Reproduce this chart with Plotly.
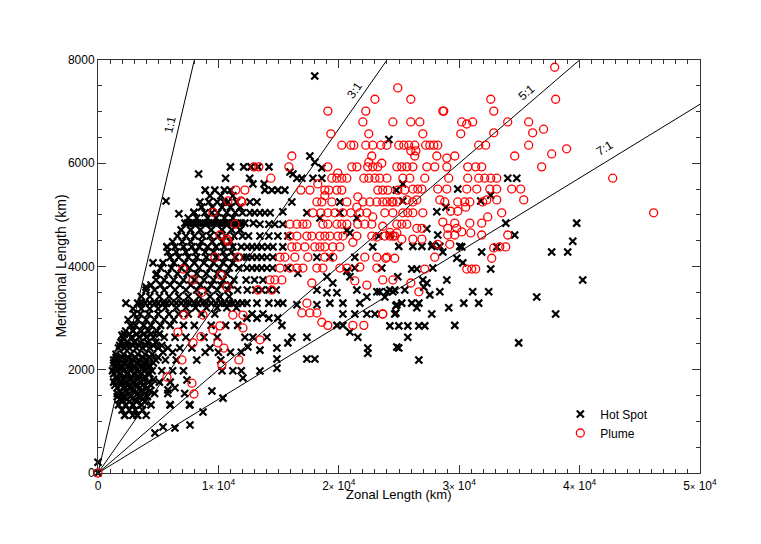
import math
import plotly.graph_objects as go

# ---- data (km) ----
# hot spots, dense rows: (meridional, [zonal, ...])
hot_spot_rows = [
    (5480, [8900, 9700, 10500, 11000]),
    (5370, [9300, 10200, 11200]),
    (5250, [8470, 9200, 9900, 10460, 10790, 11500]),
    (5150, [8600, 9500, 10300, 11000, 11800]),
    (5040, [7970, 8880, 9460, 9960, 10700, 11400, 12000, 13000, 14300]),
    (4940, [7500, 8200, 9100, 9800, 10500, 11200]),
    (4840, [7220, 7450, 7700, 8000, 8300, 8600, 8900, 9200, 9500, 9800, 10100, 10400, 10700,
            11000, 11300, 11600, 11900, 12200, 12900]),
    (4710, [6900, 7700, 8500, 9400, 10300, 11100, 11800]),
    (4590, [6600, 7300, 8000, 8700, 9300, 10000, 10600, 11300, 12000, 12500]),
    (4480, [6200, 7000, 7700, 8600, 9500, 10300, 11000]),
    (4380, [5730, 6400, 7100, 7800, 8400, 9100, 9800, 10500, 11200, 11900, 12400, 12800,
            13200, 13600, 14100]),
    (4280, [5800, 6500, 7300, 8100, 8900, 9600, 10400, 11100]),
    (4180, [6000, 6700, 7500, 8200, 9000, 9800, 10600, 11400, 12100, 12800, 13600]),
    (4070, [5400, 6300, 7200, 8000, 8800, 9600, 10400, 11200]),
    (3970, [5200, 6100, 6900, 7600, 8400, 9300, 10100, 10900, 11700, 12800, 13600, 14500]),
    (3860, [4900, 5800, 6600, 7400, 8200, 9000, 9900, 10700]),
    (3740, [4820, 5500, 6300, 7100, 8000, 8800, 9600, 10400, 11300, 12300, 13000, 13700]),
    (3640, [4400, 5200, 6000, 6800, 7700, 8500, 9400, 10200, 11000]),
    (3545, [3990, 4700, 5500, 6400, 7300, 8200, 9100, 9900, 10800, 11600, 12400, 13100,
            13600, 14200, 14800]),
    (3420, [3600, 4300, 5100, 5900, 6700, 7500, 8400, 9300, 10100, 10900]),
    (3290, [3300, 3600, 3900, 4300, 4700, 5000, 5400, 5700, 6100, 6500, 6900, 7300, 7600,
            8000, 8300, 8700, 9000, 9400, 9800, 10200, 10500, 10900, 11200, 11600, 12000]),
    (3200, [5600, 6500, 7300, 8100, 9000, 9900, 10700, 11500]),
    (3180, [2900, 3600, 4300, 5000]),
    (3080, [3000, 3500, 4200, 5000, 5900, 6700, 7500, 8600, 9700, 12800, 13700]),
    (2970, [2500, 3300, 4000, 4700, 5500, 6300]),
    (2860, [2700, 3100, 3800, 4400, 5200, 6000, 7100, 8000, 9400, 10600, 11600]),
    (2750, [2300, 2900, 3600, 4200, 4900]),
    (2690, [2200, 2600, 3200, 3800, 4400, 5100]),
    (2630, [2100, 2800, 3400, 4000, 4600, 5500, 6400, 7300, 8800, 9900]),
    (2530, [1900, 2400, 3000, 3500, 4100, 4800]),
    (2470, [1800, 2400, 2900, 3400, 4000, 4600, 5300]),
    (2420, [1700, 2200, 2600, 3200, 3700, 4300, 5000, 5800, 6800, 7800, 9300]),
    (2340, [5400, 6200, 8900, 10000, 11000, 11900]),
    (2300, [1500, 2100, 2700, 3300, 3900, 4500]),
    (2240, [1500, 2000, 2500, 3100, 3700, 4300, 5000]),
    (2190, [1300, 1800, 2300, 2900, 3400, 4100, 4800, 5600, 6500, 8200, 10200]),
    (2130, [1300, 1700, 2200, 2800, 3300, 3900, 4600]),
    (2080, [1400, 1900, 2500, 3000, 3600, 4300]),
    (2030, [1500, 2000, 2600, 3100, 3700, 4100]),
    (1980, [1200, 1600, 2100, 2700, 3200, 3800, 4500, 5300, 6200, 7100, 10300, 11200, 11900]),
    (1920, [1300, 1800, 2400, 3000, 3600, 4300]),
    (1870, [1500, 2200, 2800, 3400, 3900]),
    (1810, [1600, 2100, 2700, 3300, 3800, 4600]),
    (1760, [1300, 1900, 2400, 3000, 3600, 4200, 5100, 6000]),
    (1700, [1400, 1900, 2500, 3100, 3700, 4400]),
    (1650, [1600, 2200, 2800, 3500, 4100]),
    (1590, [1800, 2300, 2900, 3600, 4300]),
    (1540, [1600, 2000, 2600, 3300, 3900, 4700, 5800, 7200]),
    (1480, [1600, 2100, 2700, 3400, 4100]),
    (1430, [1800, 2400, 3100, 3700]),
    (1380, [2000, 2600, 3200, 3900]),
    (1320, [1700, 2300, 2900, 3600, 4400, 6000, 7600]),
    (1220, [2000, 2600, 3100, 3700]),
    (1120, [2200, 2900, 3300, 4000]),
]

hot_spot_sparse = [
    (0, 0), (0, 210), (4730, 775), (5400, 890), (6390, 870), (7640, 930), (8720, 1180),
    (10380, 1450), (9460, 1590), (5980, 1320), (7640, 1320), (5810, 1610), (6390, 1650),
    (7390, 1800), (3240, 1120), (2240, 1120), (1990, 1414), (1580, 1860), (1580, 2190),
    (1990, 2670), (2320, 3290), (3990, 3600), (4570, 4070), (4820, 3840), (5730, 4380),
    (5650, 5270), (6720, 5020), (7970, 5050), (8360, 5790),
]

hot_spot_mid = [
    (17600, 6140), (18010, 6020), (15940, 5830), (16190, 5790), (17850, 5710), (18590, 5710),
    (16520, 5710), (16930, 5710), (18590, 5910), (11000, 5930), (12100, 5930), (12700, 5930),
    (13300, 5930), (14200, 5930), (10600, 5710), (12600, 5710), (13800, 5600), (12870, 5600),
    (13860, 5480), (14440, 5480), (14940, 5480), (15520, 5480), (12620, 5250), (13200, 5250),
    (16100, 5250), (20090, 5250), (12620, 5040), (13450, 5040), (13860, 5040), (15350, 5060),
    (17350, 5040), (18430, 4940), (20090, 5040), (21500, 4940), (13450, 4820), (14190, 4820),
    (14690, 4820), (15350, 4820), (20670, 4700), (20920, 4650), (13450, 4590), (14190, 4590),
    (14940, 4590), (15770, 4590), (14530, 4380), (15350, 4380), (12370, 4180), (13200, 4180),
    (14030, 4180), (14530, 4180), (18180, 4180), (19260, 4180), (21330, 4180), (20670, 3910),
    (21330, 3970), (20920, 3800), (12370, 3970), (13200, 3970), (14030, 3970), (15770, 3970),
    (16600, 3870), (19010, 3800), (19500, 3680), (19840, 3490), (18180, 3545), (19010, 3490),
    (21500, 3545), (22330, 3410), (12370, 3290), (13200, 3290), (14190, 3290), (14940, 3290),
    (15350, 3290), (16520, 3260), (18180, 3260), (19260, 3290), (20340, 3290), (21750, 3290),
    (20340, 3080), (21330, 3080), (22330, 3080), (23000, 3080), (12370, 3000), (13200, 3000),
    (14190, 3000), (14940, 3000), (15270, 2860), (19840, 2860), (20340, 2860), (20920, 2730),
    (21580, 2630), (12200, 2630), (12870, 2630), (14030, 2630), (16100, 2630), (17350, 2630),
    (15770, 2520), (12450, 2440), (13450, 2380), (14860, 2420), (22410, 2420), (22410, 2320),
    (14860, 2210), (17350, 2210), (18010, 2210), (14860, 2030), (13450, 1975), (12040, 1840),
    (18000, 7690), (24160, 6460), (25320, 5600), (24780, 5480), (25320, 5270),
]

hot_spot_east = [
    (34030, 5710), (34780, 5710), (29880, 5500), (32620, 5380), (31790, 5270), (28890, 5150),
    (28140, 5060), (33870, 4840), (39760, 4840), (34610, 4610), (39430, 4490), (28220, 4610),
    (27810, 4420), (28640, 4280), (30210, 4380), (31870, 4280), (33120, 4380), (37680, 4280),
    (39010, 4280), (29800, 4160), (30300, 4070), (27810, 3970), (32620, 3950), (28970, 3740),
    (40260, 3740), (31120, 3510), (32450, 3510), (28390, 3510), (36440, 3410), (30380, 3290),
    (31620, 3290), (29130, 3200), (27720, 3080), (38010, 3080), (29630, 2860), (34940, 2520),
    (27310, 4730), (24240, 4610), (24980, 4390), (26150, 4390), (26900, 4390), (27720, 4390),
    (28390, 4390), (30050, 4390), (23320, 4590), (22820, 4380), (23570, 3970), (26060, 3950),
    (26480, 3950), (24900, 3800), (26980, 3740), (27310, 3680), (23410, 3510), (24240, 3545),
    (24650, 3545), (25480, 3545), (27060, 3600), (27560, 3450), (23820, 3410), (23160, 3510),
    (24000, 3510), (24490, 3510), (24740, 3240), (25230, 3290), (26060, 3290), (26650, 3290),
    (26480, 3200), (24740, 3100), (24650, 3080), (24820, 3260), (24240, 2850), (24980, 2850),
    (25730, 2850), (26650, 2850), (27140, 2850), (25730, 2630), (24980, 2420), (24820, 2440),
    (26650, 2190),
]

plume_west = [
    (0, 0), (11450, 5480), (11870, 5270), (10790, 5270), (9550, 5050), (11370, 4820),
    (10130, 4610), (10790, 4490), (10710, 4530), (9710, 4180), (11620, 4180), (7060, 3950),
    (7890, 3740), (10210, 3830), (8630, 3500), (10710, 3600), (7140, 3060), (8720, 3060),
    (11200, 3060), (12040, 3060), (9550, 2770), (10130, 2850), (6640, 2730), (8550, 2640),
    (7890, 2520), (9960, 2520), (10460, 2420), (6970, 2190), (11700, 2190), (10290, 2090),
    (5730, 1860), (7800, 1740), (7970, 1530), (12950, 5930), (13360, 5930), (12200, 5480),
    (11950, 5250), (14360, 5710), (13280, 3545), (14440, 3545), (14280, 3740), (14690, 3740),
    (15270, 3740), (13450, 2580), (12040, 2810),
]

plume_central = [
    (16100, 6140), (15850, 5930), (19090, 5930), (21080, 5930), (21500, 5930), (22400, 5930),
    (22820, 5930), (23240, 5930), (24820, 5930), (22740, 6140), (19920, 5810), (19420, 5710),
    (19840, 5710), (20250, 5710), (20670, 5710), (22080, 5710), (22500, 5710), (23000, 5710),
    (23400, 5710), (24000, 5710), (18260, 5600), (16850, 5480), (17600, 5480), (18840, 5480),
    (19170, 5480), (19840, 5480), (20250, 5480), (23240, 5480), (23650, 5480), (24070, 5480),
    (18840, 5370), (18180, 5250), (18590, 5250), (19420, 5250), (20670, 5250), (21580, 5350),
    (22000, 5250), (22580, 5250), (23160, 5250), (24000, 5250), (24500, 5250), (17850, 5040),
    (18510, 5040), (19090, 5040), (19670, 5040), (20330, 5040), (21000, 5040), (21500, 5150),
    (21750, 5040), (22330, 5040), (22820, 4960), (15940, 4820), (16520, 4820), (17020, 4820),
    (17350, 4820), (18680, 4820), (19090, 4820), (19840, 4820), (20250, 4820), (20670, 4820),
    (21580, 4820), (22160, 4820), (22740, 4820), (23650, 4780), (24240, 4660), (24820, 4650),
    (15940, 4590), (16520, 4590), (17350, 4590), (17760, 4590), (18430, 4590), (18840, 4590),
    (19260, 4590), (19920, 4590), (20340, 4590), (21170, 4470), (21500, 4590), (22740, 4590),
    (23160, 4570), (24240, 4590), (24650, 4590), (16100, 4380), (16520, 4380), (17180, 4380),
    (18010, 4380), (18430, 4380), (18840, 4380), (19500, 4380), (20090, 4380), (22160, 4180),
    (23160, 4180), (24000, 4180), (15110, 4180), (15520, 4180), (16350, 4180), (17430, 4180),
    (18840, 4180), (19500, 4180), (15110, 3970), (15940, 3970), (16520, 3970), (17020, 3970),
    (18180, 3970), (18680, 3970), (20090, 3970), (20670, 3970), (21750, 3990), (23160, 3970),
    (17760, 3680), (21330, 3720), (22330, 3640), (17350, 3290), (16930, 3100), (17600, 3100),
    (18180, 3100), (23650, 3080), (18590, 2920), (19090, 2860), (21170, 2860), (22080, 2860),
]

plume_upper = [
    (24900, 7460), (23000, 7240), (25980, 7240), (19090, 7010), (22240, 7010), (28720, 7010),
    (32620, 7240), (22000, 6800), (24490, 6800), (25980, 6800), (26730, 6800), (30210, 6800),
    (30630, 6760), (31120, 6800), (19340, 6570), (22490, 6570), (26980, 6570), (30130, 6570),
    (20250, 6350), (21000, 6350), (21250, 6350), (22240, 6350), (22820, 6350), (23490, 6350),
    (23990, 6350), (24980, 6350), (25400, 6350), (25810, 6350), (26310, 6350), (27220, 6350),
    (27560, 6350), (27890, 6350), (28220, 6350), (31620, 6350), (32200, 6350), (25980, 6240),
    (26400, 6240), (26310, 6140), (28140, 6140), (28970, 6100), (29630, 6140), (22490, 6020),
    (23570, 6000), (37930, 7860), (38010, 7240), (28640, 7010), (32870, 7010), (34030, 6800),
    (35770, 6800), (32870, 6590), (36100, 6590), (37010, 6660), (35770, 6350), (38920, 6280),
    (37680, 6180), (34610, 6140), (36850, 5930), (42750, 5710), (46150, 5040),
]

plume_east = [
    (25230, 5930), (25650, 5930), (26150, 5930), (27310, 5930), (27970, 5930), (28970, 5930),
    (30710, 5930), (31370, 5930), (31870, 5930), (25320, 5710), (25900, 5710), (27140, 5710),
    (29130, 5710), (30710, 5710), (31620, 5710), (32120, 5710), (32620, 5710), (33120, 5710),
    (24900, 5480), (25480, 5480), (26150, 5500), (26560, 5500), (26900, 5500), (28220, 5500),
    (28970, 5500), (30630, 5500), (31460, 5500), (32540, 5500), (33120, 5500), (34360, 5500),
    (35110, 5500), (23650, 5250), (24400, 5250), (24820, 5250), (25650, 5290), (26150, 5250),
    (26480, 5290), (28390, 5290), (28800, 5250), (29880, 5250), (30460, 5250), (30880, 5250),
    (31950, 5250), (32290, 5290), (33120, 5290), (35360, 5290), (23820, 5040), (24490, 5040),
    (25320, 5040), (25730, 5040), (26150, 5040), (26980, 5040), (29300, 5070), (29880, 5070),
    (30540, 5150), (33530, 5040), (32370, 4960), (24820, 4820), (25230, 4820), (25650, 4820),
    (26480, 4740), (26900, 4740), (28640, 4860), (29050, 4740), (29630, 4840), (29800, 4740),
    (30880, 4840), (31870, 4840), (23820, 4590), (24490, 4590), (25230, 4530), (26150, 4530),
    (26900, 4530), (29050, 4610), (29630, 4610), (30210, 4670), (30960, 4650), (31870, 4610),
    (34030, 4610), (28220, 4430), (29220, 4430), (32870, 4360), (33370, 4380), (33870, 4380),
    (23900, 4160), (24650, 4160), (27970, 4180), (32700, 4160), (27140, 3950), (30630, 3950),
    (31040, 3950), (31370, 3950), (23650, 3740), (24490, 3740), (25980, 3680), (26650, 3510),
    (23650, 3080),
]

# zonal:meridional ratio lines
ratios = [1, 3, 5, 7]
ratio_labels = ['1:1', '3:1', '5:1', '7:1']

x_max, y_max = 50000, 8000
x_ticks = [0, 10000, 20000, 30000, 40000, 50000]
x_ticktext = ['0'] + ['%d<span style="font-size:9px">\u00d7</span> 10<sup>4</sup>' % i for i in range(1, 6)]
y_ticks = [0, 2000, 4000, 6000, 8000]

# ---- assemble ----
hot = [(x, y) for y, xs in hot_spot_rows for x in xs] + hot_spot_sparse + hot_spot_mid + hot_spot_east
plume = plume_west + plume_central + plume_upper + plume_east

# page body has an 8px margin, so margins are trimmed by 8 to land the plot box at 98..700 / 60..473
W, H = 761, 544
ml, mr, mt, mb = 90, 69, 52, 79
pw, ph = W - ml - mr, H - mt - mb
font = 'Liberation Sans, Arial, Helvetica, sans-serif'

fig = go.Figure()

for r in ratios:
    xe = min(x_max, y_max * r)
    fig.add_trace(go.Scatter(x=[0, xe], y=[0, xe / r], mode='lines',
                             line=dict(color='black', width=1), showlegend=False,
                             hoverinfo='skip'))

fig.add_trace(go.Scatter(x=[p[0] for p in hot], y=[p[1] for p in hot], mode='markers',
                         name='Hot Spot', cliponaxis=False,
                         marker=dict(symbol='x-thin', size=7, color='black',
                                     line=dict(color='black', width=2.2))))
fig.add_trace(go.Scatter(x=[p[0] for p in plume], y=[p[1] for p in plume], mode='markers',
                         name='Plume', cliponaxis=False,
                         marker=dict(symbol='circle-open', size=8, color='red',
                                     line=dict(color='red', width=1.3))))

# rotated labels on the ratio lines
label_pos = [(5980, 6740), (21330, 7420), (35630, 7380), (42100, 6300)]
for r, txt, (lx, ly) in zip(ratios, ratio_labels, label_pos):
    ang = math.degrees(math.atan((ph / y_max) / (pw / x_max) / r))
    fig.add_annotation(x=lx, y=ly, text=txt, showarrow=False, textangle=-ang,
                       font=dict(size=12, color='black', family=font))

fig.add_annotation(x=0.5, y=-0.053, xref='paper', yref='paper', text='Zonal Length (km)',
                   xanchor='center', yanchor='middle', showarrow=False,
                   font=dict(size=13, color='black', family=font))
fig.add_annotation(x=-0.063, y=0.5, xref='paper', yref='paper', text='Meridional Length (km)',
                   xanchor='center', yanchor='middle', textangle=-90, showarrow=False,
                   font=dict(size=14, color='black', family=font))

axis_common = dict(showgrid=False, zeroline=False, showline=True, linecolor='#333',
                   linewidth=1, mirror='ticks', ticks='inside', ticklen=8, tickcolor='#333',
                   tickfont=dict(size=12, color='black', family=font))

fig.update_layout(
    width=W, height=H,
    margin=dict(l=ml, r=mr, t=mt, b=mb),
    paper_bgcolor='white', plot_bgcolor='white',
    font=dict(family=font, size=12, color='black'),
    xaxis=dict(range=[0, x_max], tickvals=x_ticks, ticktext=x_ticktext, ticklabelstandoff=2,
               minor=dict(ticks='inside', ticklen=4, dtick=1000, tickcolor='#333'),
               **axis_common),
    yaxis=dict(range=[0, y_max], tickvals=y_ticks,
               minor=dict(ticks='inside', ticklen=4, dtick=500, tickcolor='#333'),
               **axis_common),
    legend=dict(x=0.768, y=0.178, xanchor='left', yanchor='top', bgcolor='rgba(0,0,0,0)',
                font=dict(size=12, family=font), tracegroupgap=0),
)

fig.write_html("out.html")
